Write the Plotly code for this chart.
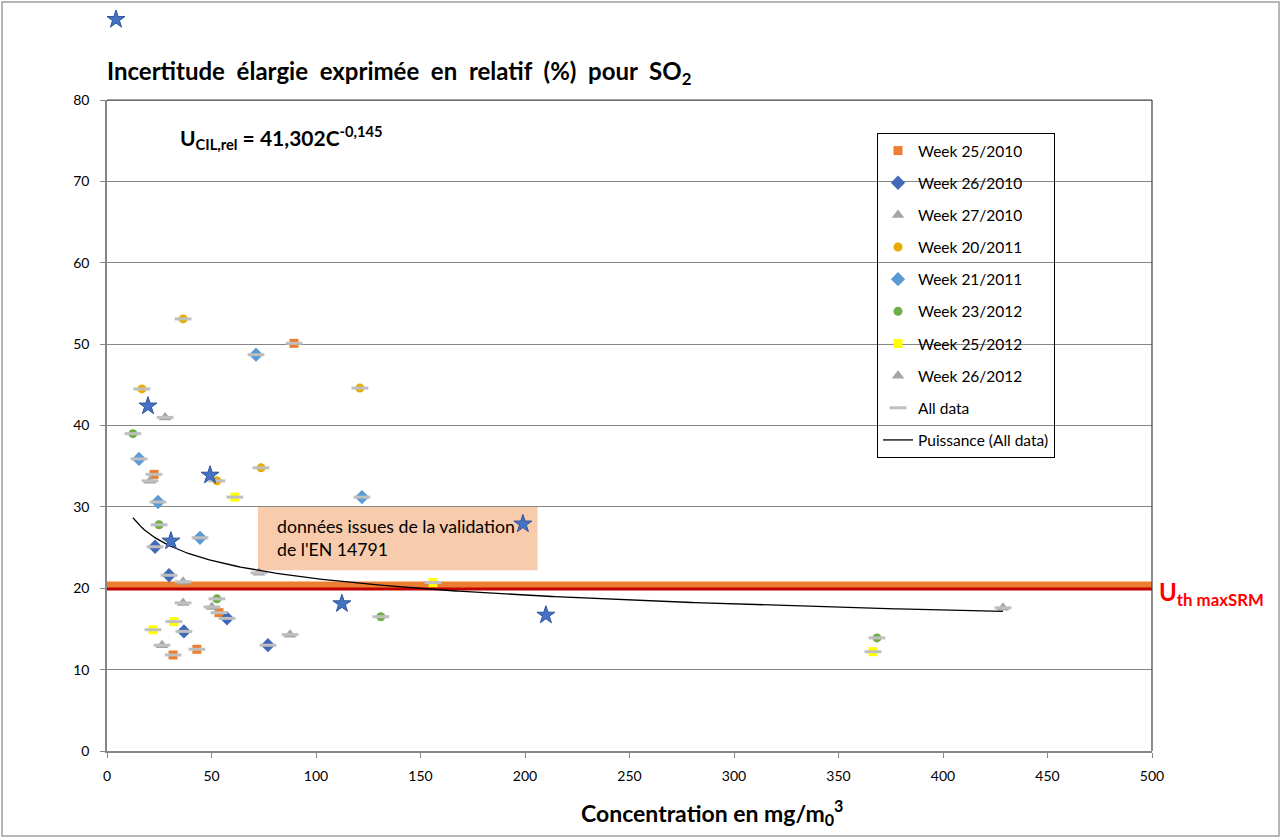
import numpy as np
import plotly.graph_objects as go

# Measurement campaigns: concentration (mg/m0^3) and relative expanded uncertainty (%)
w25_2010_x = [22.5, 31.6, 43.0, 53.6, 89.5]
w25_2010_y = [34.0, 11.8, 12.5, 17.0, 50.1]
w26_2010_x = [23.0, 29.7, 36.8, 57.4, 77.0]
w26_2010_y = [25.1, 21.6, 14.7, 16.3, 13.0]
w27_2010_x = [20.6, 27.8, 36.4, 26.3, 50.2]
w27_2010_y = [33.2, 41.0, 18.2, 13.0, 17.7]
w20_2011_x = [16.7, 36.4, 52.6, 73.7, 121.0]
w20_2011_y = [44.5, 53.1, 33.2, 34.8, 44.6]
w21_2011_x = [15.3, 24.4, 44.5, 71.3, 122.0]
w21_2011_y = [35.9, 30.6, 26.2, 48.7, 31.2]
w23_2012_x = [12.4, 24.9, 52.6, 131.0, 368.4]
w23_2012_y = [39.0, 27.8, 18.7, 16.5, 13.9]
w25_2012_x = [22.0, 32.0, 61.2, 156.0, 366.5]
w25_2012_y = [14.9, 15.9, 31.2, 20.7, 12.2]
w26_2012_x = [72.7, 87.6, 36.4, 428.7]
w26_2012_y = [21.9, 14.3, 20.8, 17.6]

# EN 14791 validation data
en14791_x = [4.3, 19.6, 30.6, 49.3, 112.4, 199.0, 210.0]
en14791_y = [89.9, 42.4, 25.8, 33.9, 18.1, 27.9, 16.7]

# Power trendline coefficients  U = a * C^b
fit_a = 41.302
fit_b = -0.145

# Threshold levels
u_th_maxsrm = 19.9
u_band = 20.4
x_span = [0, 500]

# Axis ranges
x_range = [0, 500]
y_range = [0, 80]

series = [
    ("Week 25/2010", w25_2010_x, w25_2010_y, "square", "#ED7D31", 9),
    ("Week 26/2010", w26_2010_x, w26_2010_y, "diamond", "#4169B8", 11),
    ("Week 27/2010", w27_2010_x, w27_2010_y, "triangle-up", "#A5A5A5", 11),
    ("Week 20/2011", w20_2011_x, w20_2011_y, "circle", "#EAAA08", 9),
    ("Week 21/2011", w21_2011_x, w21_2011_y, "diamond", "#5B9BD5", 11),
    ("Week 23/2012", w23_2012_x, w23_2012_y, "circle", "#70AD47", 9),
    ("Week 25/2012", w25_2012_x, w25_2012_y, "square", "#FFFF00", 9),
    ("Week 26/2012", w26_2012_x, w26_2012_y, "triangle-up", "#A5A5A5", 11),
]

FONT = "Lato, 'Open Sans', sans-serif"

# Page geometry: the plotting region runs from the top margin down to the x axis;
# the main y axis only uses its lower part so outliers can still be drawn above it.
W, H = 1281, 839
M_L, M_R, M_T, M_B = 107, 129, 10, 88
plot_w = W - M_L - M_R
plot_h = H - M_T - M_B
main_top = 0.8785          # fraction of the plotting region used by the 0-80 axis
y2_top = y_range[1] / main_top


def fx(px):
    return (px - M_L) / plot_w


def fy(py):
    return (H - M_B - py) / plot_h


fig = go.Figure()

# Threshold lines (not in legend)
fig.add_trace(go.Scatter(x=x_span, y=[u_band, u_band], mode="lines",
                         line=dict(color="#ED7D31", width=7),
                         showlegend=False, hoverinfo="skip", cliponaxis=False))
fig.add_trace(go.Scatter(x=x_span, y=[u_th_maxsrm, u_th_maxsrm], mode="lines",
                         line=dict(color="#C00000", width=3),
                         showlegend=False, hoverinfo="skip", cliponaxis=False))

all_x, all_y = [], []
for i, (name, xs, ys, sym, col, size) in enumerate(series):
    all_x += xs
    all_y += ys
    fig.add_trace(go.Scatter(
        x=xs, y=ys, mode="markers", name=name, legendgroup=f"g{i}",
        marker=dict(symbol=sym, color=col, size=size, line=dict(width=0)),
        cliponaxis=False))

fig.add_trace(go.Scatter(
    x=all_x, y=all_y, mode="markers", name="All data", legendgroup="g8",
    marker=dict(symbol="line-ew", size=12, line=dict(color="#BFBFBF", width=3)),
    cliponaxis=False))

cx = np.linspace(min(all_x), max(all_x), 300)
fig.add_trace(go.Scatter(
    x=cx, y=fit_a * cx ** fit_b, mode="lines", name="Puissance (All data)",
    legendgroup="g9", line=dict(color="black", width=1.3)))

# Validation points on a taller companion axis sharing the same scale
fig.add_trace(go.Scatter(
    x=en14791_x, y=en14791_y, mode="markers", showlegend=False,
    xaxis="x", yaxis="y2",
    marker=dict(symbol="star", size=13.5, color="#4472C4",
                line=dict(color="#2F5597", width=1)),
    cliponaxis=False))

annotations = [
    dict(text="<b>Incertitude  élargie  exprimée  en  relatif  (%)  pour  SO<sub>2</sub></b>",
         xref="paper", yref="paper", x=fx(105), y=fy(72), xanchor="left", yanchor="middle",
         showarrow=False, font=dict(size=24, color="black", family=FONT)),
    dict(text="<b>U<sub>CIL,rel</sub> = 41,302C<sup>-0,145</sup></b>",
         xref="paper", yref="paper", x=fx(178), y=fy(138), xanchor="left", yanchor="middle",
         showarrow=False, font=dict(size=21, color="black", family=FONT)),
    dict(text="<b>Concentration en mg/m<sub>0</sub><sup>3</sup></b>",
         xref="paper", yref="paper", x=fx(712), y=fy(812), xanchor="center", yanchor="middle",
         showarrow=False, font=dict(size=23, color="black", family=FONT)),
    dict(text="<b>U<sub>th maxSRM</sub></b>",
         xref="paper", yref="y", x=fx(1157), y=19.4, xanchor="left", yanchor="middle",
         showarrow=False, font=dict(size=24, color="#FF0000", family=FONT)),
    dict(text="données issues de la validation<br>de l'EN 14791",
         xref="x", yref="y", x=80.4, y=26.2, xanchor="left", yanchor="middle",
         align="left", showarrow=False,
         font=dict(size=17.7, color="black", family=FONT)),
]

shapes = [
    # note box behind the validation text
    dict(type="rect", xref="x", yref="y", x0=72.2, x1=206.0, y0=22.2, y1=30.1,
         fillcolor="#F8CBAD", line=dict(width=0), layer="below"),
    # plot-area frame on the top and right
    dict(type="line", xref="paper", yref="paper", x0=0, x1=1, y0=main_top, y1=main_top,
         line=dict(color="#404040", width=1.2)),
    dict(type="line", xref="paper", yref="paper", x0=1, x1=1, y0=0, y1=main_top,
         line=dict(color="#404040", width=1.2)),
    # outer chart border
    dict(type="rect", xref="paper", yref="paper", x0=fx(2), x1=fx(1279),
         y0=fy(836), y1=fy(2), line=dict(color="#A0A0A0", width=1.5)),
]

fig.update_layout(
    width=W, height=H,
    margin=dict(l=M_L, r=M_R, t=M_T, b=M_B, autoexpand=False),
    paper_bgcolor="white", plot_bgcolor="rgba(0,0,0,0)",
    font=dict(family=FONT, size=14, color="black"),
    showlegend=True,
    legend=dict(x=fx(877), y=fy(133), xanchor="left", yanchor="top",
                bgcolor="rgba(0,0,0,0)", bordercolor="black", borderwidth=1,
                font=dict(size=15.5, color="black", family=FONT),
                entrywidth=150, entrywidthmode="pixels",
                tracegroupgap=9, traceorder="grouped"),
    annotations=annotations,
    shapes=shapes,
    xaxis=dict(range=x_range, dtick=50, showgrid=False, zeroline=False,
               anchor="y",
               showline=True, linecolor="#868686", linewidth=1.5,
               ticks="outside", ticklen=5, tickcolor="#868686",
               ticklabelstandoff=6, tickfont=dict(size=14, color="black")),
    yaxis=dict(range=y_range, dtick=10, domain=[0, main_top],
               showgrid=True, gridcolor="#868686",
               gridwidth=1.3, zeroline=False, anchor="x",
               showline=True, linecolor="#868686", linewidth=1.5,
               ticks="outside", ticklen=5, tickcolor="#868686",
               ticklabelstandoff=8, tickfont=dict(size=14, color="black")),
    yaxis2=dict(range=[0, y2_top], domain=[0, 1], anchor="x", visible=False,
                showgrid=False, zeroline=False),
)

fig.write_html("out.html")
